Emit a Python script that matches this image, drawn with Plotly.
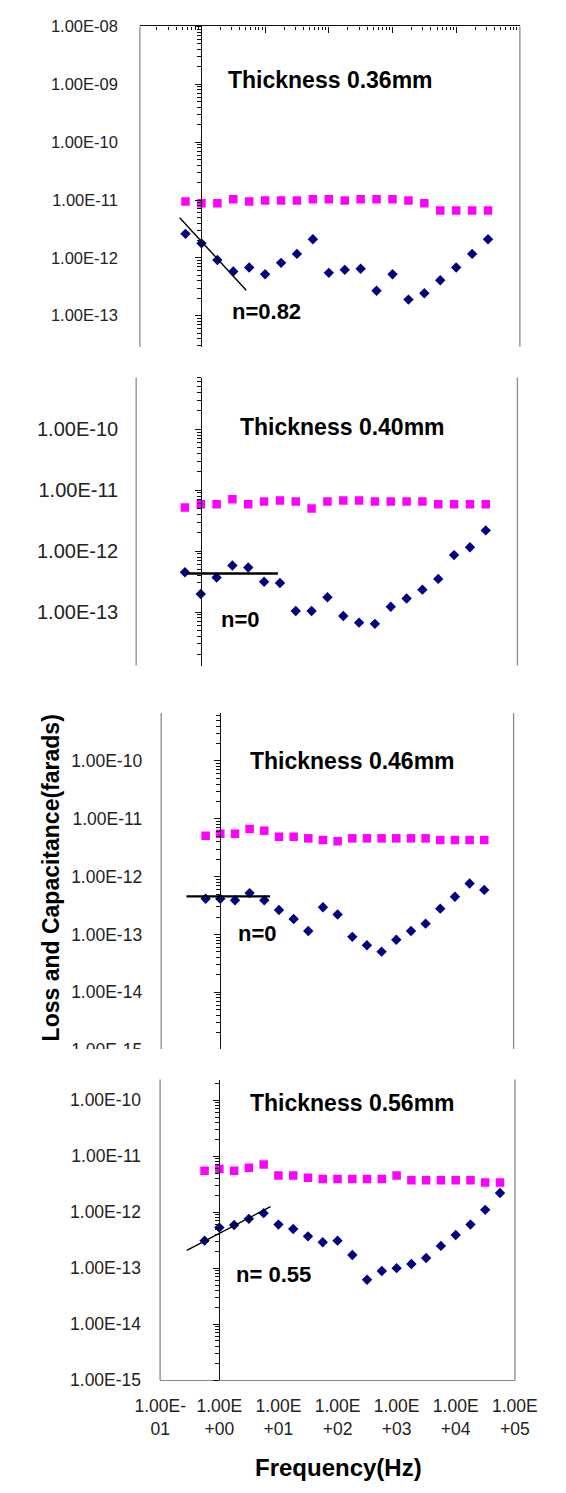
import plotly.graph_objects as go

W, H = 566, 1493

# Measurement frequencies (Hz), four points per decade
freq = [0.562, 1.0, 1.78, 3.16, 5.62, 10.0, 17.8, 31.6, 56.2, 100.0,
        178.0, 316.0, 562.0, 1000.0, 1780.0, 3160.0, 5620.0, 10000.0,
        17800.0, 31600.0]
freq_056 = freq + [56200.0]

titles = ["Thickness 0.36mm", "Thickness 0.40mm",
          "Thickness 0.46mm", "Thickness 0.56mm"]
n_labels = ["n=0.82", "n=0", "n=0", "n= 0.55"]

# Capacitance (farads)
cap_036 = [9.4e-12, 8.8e-12, 8.8e-12, 1.03e-11, 9.4e-12, 9.8e-12, 9.8e-12,
           9.8e-12, 1.03e-11, 1.03e-11, 9.8e-12, 1.03e-11, 1.03e-11, 1.03e-11,
           9.8e-12, 8.8e-12, 6.6e-12, 6.6e-12, 6.6e-12, 6.6e-12]
cap_040 = [5.2e-12, 5.9e-12, 5.9e-12, 7.1e-12, 5.9e-12, 6.5e-12, 6.8e-12,
           6.5e-12, 5.0e-12, 6.5e-12, 6.8e-12, 6.8e-12, 6.5e-12, 6.5e-12,
           6.5e-12, 6.5e-12, 5.9e-12, 5.9e-12, 5.9e-12, 5.9e-12]
cap_046 = [5.1e-12, 5.5e-12, 5.5e-12, 6.7e-12, 6.25e-12, 4.9e-12, 4.9e-12,
           4.6e-12, 4.3e-12, 4.1e-12, 4.6e-12, 4.6e-12, 4.6e-12, 4.6e-12,
           4.6e-12, 4.6e-12, 4.3e-12, 4.3e-12, 4.3e-12, 4.3e-12]
cap_056 = [5.5e-12, 5.9e-12, 5.5e-12, 6.2e-12, 7.1e-12, 4.5e-12, 4.5e-12,
           4.1e-12, 3.9e-12, 3.9e-12, 3.9e-12, 3.9e-12, 3.9e-12, 4.5e-12,
           3.7e-12, 3.7e-12, 3.7e-12, 3.7e-12, 3.7e-12, 3.4e-12, 3.4e-12]

# Loss (farads)
loss_036 = [2.6e-12, 1.78e-12, 9.2e-13, 5.8e-13, 6.8e-13, 5.2e-13, 8.2e-13,
            1.17e-12, 2.1e-12, 5.5e-13, 6.2e-13, 6.5e-13, 2.7e-13, 5.2e-13,
            1.9e-13, 2.45e-13, 4.1e-13, 6.8e-13, 1.17e-12, 2.1e-12]
loss_040 = [4.5e-13, 1.98e-13, 3.7e-13, 5.8e-13, 5.4e-13, 3.15e-13, 3.0e-13,
            1.04e-13, 1.04e-13, 1.75e-13, 8.6e-14, 6.7e-14, 6.4e-14, 1.22e-13,
            1.67e-13, 2.33e-13, 3.5e-13, 8.6e-13, 1.16e-12, 2.19e-12]
loss_046 = [4.16e-13, 4.16e-13, 3.9e-13, 5.2e-13, 3.9e-13, 2.66e-13, 1.85e-13,
            1.15e-13, 2.96e-13, 2.22e-13, 9.1e-14, 6.5e-14, 5.05e-14, 8.1e-14,
            1.15e-13, 1.54e-13, 2.8e-13, 4.5e-13, 7.6e-13, 5.9e-13]
loss_056 = [3.1e-13, 5.3e-13, 5.9e-13, 7.6e-13, 9.6e-13, 6.0e-13, 5.0e-13,
            3.7e-13, 2.9e-13, 3.1e-13, 1.72e-13, 6.2e-14, 8.9e-14, 1.0e-13,
            1.19e-13, 1.52e-13, 2.5e-13, 3.9e-13, 6.0e-13, 1.1e-12, 2.2e-12]

# Power-law guide lines: start/end frequency, start value, log-log slope
fit_f_start = [0.456, 0.59, 0.265, 0.281]
fit_f_end = [5.05, 16.5, 7.06, 7.35]
fit_v_start = [4.93e-12, 4.3e-13, 4.56e-13, 2.08e-13]
fit_slope = [-1.2, 0.0, 0.0, 0.55]

# Decade exponents labelled on each y axis
y_label_exps = [[-8, -9, -10, -11, -12, -13],
                [-10, -11, -12, -13],
                [-10, -11, -12, -13, -14, -15],
                [-10, -11, -12, -13, -14, -15]]
x_tick_vals = [0.1, 1, 10, 100, 1000, 10000, 100000]
x_tick_text = ["1.00E-<br>01", "1.00E<br>+00", "1.00E<br>+01", "1.00E<br>+02",
               "1.00E<br>+03", "1.00E<br>+04", "1.00E<br>+05"]

freqs = [freq, freq, freq, freq_056]
caps = [cap_036, cap_040, cap_046, cap_056]
losses = [loss_036, loss_040, loss_046, loss_056]

# Panel frames in pixels: left, right, top, bottom, log x range, log y range
panels = [
    dict(l=124.7, r=540.7, t=17.7, b=342.3, xr=[-0.966, 5.0], yr=[-13.54, -8.0],
         fs=16.5, stand=21, title_xy=(333, 71.7), n_xy=(263.6, 306.7), fitw=1.4),
    dict(l=120.6, r=538.0, t=373.3, b=665.0, xr=[-1.02, 5.0], yr=[-13.878, -9.151],
         fs=20, stand=17, title_xy=(346, 423.3), n_xy=(235, 618.3), fitw=2.4),
    dict(l=148.0, r=533.8, t=713.3, b=1054.6, xr=[-1.008, 5.0], yr=[-15.0, -9.174],
         fs=17.5, stand=18, title_xy=(357, 761.7), n_xy=(253.6, 936.7), fitw=2.4),
    dict(l=146.8, r=535.3, t=1084.3, b=1388.8, xr=[-1.003, 5.003], yr=[-15.0, -9.63],
         fs=17.5, stand=18, title_xy=(357, 1108.3), n_xy=(271, 1281.7), fitw=1.4),
]

FONT = "Liberation Sans, Arial, sans-serif"
GRAY = "#8a8a8a"


def fx(x):
    return x / W


def fy(y):
    return 1 - y / H


decades = [10.0 ** e for e in range(-16, 7)]
minor_vals = [m * d for d in decades for m in range(2, 10)]

fig = go.Figure()
layout = dict(width=W, height=H, margin=dict(l=0, r=0, t=0, b=0),
              paper_bgcolor="white", plot_bgcolor="white", showlegend=False,
              font=dict(family=FONT, color="#222"))
shapes = []
annotations = []

for i, p in enumerate(panels):
    k = i + 1
    xa, ya, yo = f"xaxis{k}", f"yaxis{k}", f"yaxis{k + 4}"
    xdom = [fx(p["l"]), fx(p["r"])]
    ydom = [fy(p["b"]), fy(p["t"])]

    xax = dict(domain=xdom, type="log", range=p["xr"], anchor=f"y{k}",
               showgrid=False, zeroline=False, fixedrange=True)
    if k == 1:
        xax.update(side="top", showline=True, linecolor="#111", linewidth=1.2,
                   ticks="inside", ticklen=6, tickcolor="#111", tickvals=decades,
                   showticklabels=False,
                   minor=dict(ticks="inside", ticklen=3, tickcolor="#111",
                              tickmode="array", tickvals=minor_vals))
    elif k == 4:
        xax.update(side="bottom", showline=True, linecolor=GRAY, linewidth=1.3,
                   ticks="", tickmode="array", tickvals=x_tick_vals,
                   ticktext=x_tick_text, ticklabelstandoff=10,
                   tickfont=dict(family=FONT, size=17.5, color="#222"))
    else:
        xax.update(showline=False, ticks="", showticklabels=False)
    layout[xa] = xax

    exps = y_label_exps[i]
    layout[ya] = dict(domain=ydom, type="log", range=p["yr"], anchor=f"x{k}",
                      showgrid=False, zeroline=False, showline=False, ticks="",
                      tickmode="array", tickvals=[10.0 ** e for e in exps],
                      ticktext=[f"1.00E-{-e:02d}" for e in exps],
                      ticklabelstandoff=p["stand"], fixedrange=True,
                      tickfont=dict(family=FONT, size=p["fs"], color="#222"))

    # vertical axis line crossing at 1 Hz
    x_cross = p["l"] + (0 - p["xr"][0]) / (p["xr"][1] - p["xr"][0]) * (p["r"] - p["l"])
    layout[yo] = dict(overlaying=f"y{k}", anchor="free", position=fx(x_cross),
                      side="left", type="log", range=p["yr"], showgrid=False,
                      zeroline=False, showline=True, linecolor="#111",
                      linewidth=1.4, ticks="outside", ticklen=6, tickcolor="#111",
                      tickvals=decades, showticklabels=False, fixedrange=True,
                      minor=dict(ticks="outside", ticklen=4, tickcolor="#111",
                                 tickmode="array", tickvals=minor_vals))
    fig.add_trace(go.Scatter(x=[None], y=[None], xaxis=f"x{k}", yaxis=f"y{k + 4}",
                             mode="markers", hoverinfo="skip"))

    # frame borders
    for xb in (p["l"], p["r"]):
        shapes.append(dict(type="line", xref="paper", yref="paper",
                           x0=fx(xb), x1=fx(xb), y0=ydom[0], y1=ydom[1],
                           line=dict(color=GRAY, width=1.3), layer="above"))

    # capacitance and loss
    fig.add_trace(go.Scatter(x=freqs[i], y=caps[i], mode="markers",
                             xaxis=f"x{k}", yaxis=f"y{k}",
                             marker=dict(symbol="square", size=8.5,
                                         color="#FF00FF")))
    fig.add_trace(go.Scatter(x=freqs[i], y=losses[i], mode="markers",
                             xaxis=f"x{k}", yaxis=f"y{k}",
                             marker=dict(symbol="diamond", size=8,
                                         color="#000080")))

    # guide line from start point and slope
    f0, f1, v0, s = fit_f_start[i], fit_f_end[i], fit_v_start[i], fit_slope[i]
    v1 = v0 * (f1 / f0) ** s
    fig.add_trace(go.Scatter(x=[f0, f1], y=[v0, v1], mode="lines",
                             xaxis=f"x{k}", yaxis=f"y{k}",
                             line=dict(color="#000", width=p["fitw"])))

    tx, ty = p["title_xy"]
    annotations.append(dict(text=f"<b>{titles[i]}</b>", x=fx(tx), y=fy(ty),
                            xref="paper", yref="paper", showarrow=False,
                            xanchor="center", yanchor="middle",
                            font=dict(family=FONT, size=23, color="#000")))
    nx, ny = p["n_xy"]
    annotations.append(dict(text=f"<b>{n_labels[i]}</b>", x=fx(nx), y=fy(ny),
                            xref="paper", yref="paper", showarrow=False,
                            xanchor="center", yanchor="middle",
                            font=dict(family=FONT, size=22, color="#000")))

# crop the lower edge of the third panel
shapes.append(dict(type="rect", xref="paper", yref="paper", x0=fx(40), x1=1,
                   y0=fy(1078), y1=fy(1053.3), fillcolor="white",
                   line=dict(width=0), layer="above"))

annotations.append(dict(text="<b>Loss and Capacitance(farads)</b>", x=fx(27.5),
                        y=fy(880.5), xref="paper", yref="paper", showarrow=False,
                        textangle=-90, xanchor="center", yanchor="middle",
                        font=dict(family=FONT, size=23, color="#000")))
annotations.append(dict(text="<b>Frequency(Hz)</b>", x=fx(341.8), y=fy(1477.3),
                        xref="paper", yref="paper", showarrow=False,
                        xanchor="center", yanchor="middle",
                        font=dict(family=FONT, size=24, color="#000")))

layout["shapes"] = shapes
layout["annotations"] = annotations
fig.update_layout(**layout)

fig.write_html("out.html")
